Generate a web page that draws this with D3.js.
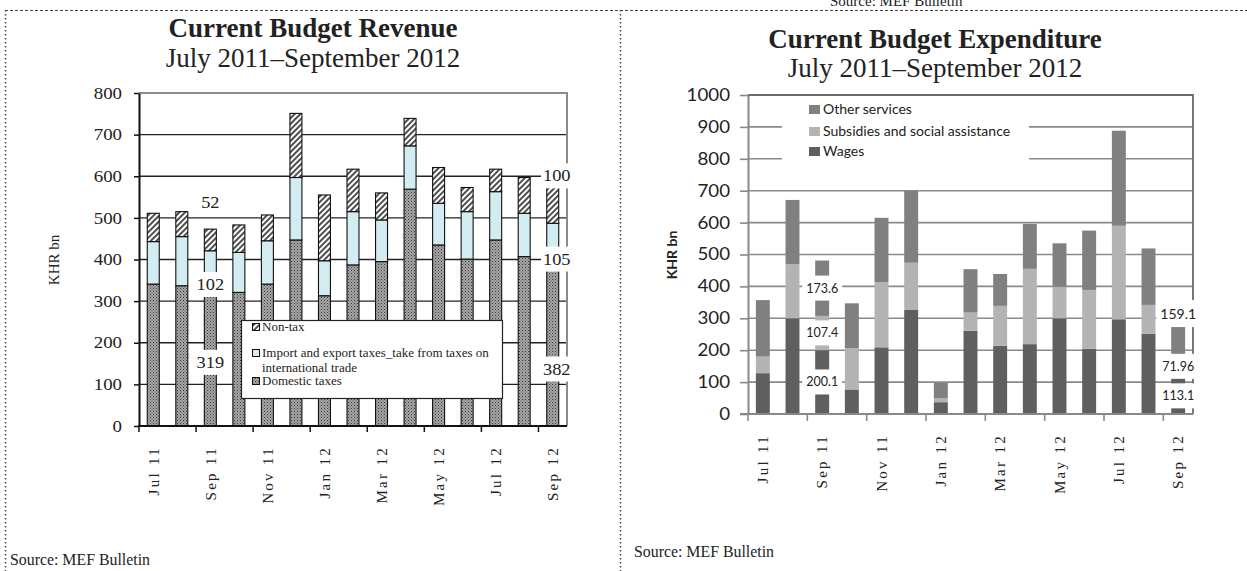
<!DOCTYPE html>
<html lang="en">
<head>
    <meta charset="UTF-8">
    <title>Current Budget Revenue / Expenditure</title>
    <script src="https://cdn.jsdelivr.net/npm/d3@7"></script>
    <style>
        body { margin: 0; background: #fff; }
        svg { display: block; }
    </style>
</head>
<body>
<script>
    // months, Jul 2011 - Sep 2012
    const months = ["Jul 11", "Aug 11", "Sep 11", "Oct 11", "Nov 11", "Dec 11", "Jan 12", "Feb 12",
        "Mar 12", "Apr 12", "May 12", "Jun 12", "Jul 12", "Aug 12", "Sep 12"];

    // revenue, KHR bn
    const revDomestic = [341, 337, 319, 321, 341, 447, 313, 387, 395, 569, 435, 401, 447, 407, 382];
    const revImport = [102, 118, 102, 96, 104, 150, 84, 128, 100, 104, 100, 114, 116, 104, 105];
    const revNonTax = [68, 60, 52, 66, 62, 154, 158, 102, 65, 66, 86, 58, 54, 86, 100];
    const revTicks = [0, 100, 200, 300, 400, 500, 600, 700, 800];
    const revLegend = ["Non-tax", "Import and export taxes_take from taxes on", "Domestic taxes"];
    // data labels as they sit on the chart (value axis position)
    const revLabels = [
        {month: "Sep 11", text: "52", at: 538},
        {month: "Sep 11", text: "102", at: 341},
        {month: "Sep 11", text: "319", at: 154},
        {month: "Sep 12", text: "100", at: 602},
        {month: "Sep 12", text: "105", at: 402},
        {month: "Sep 12", text: "382", at: 138}
    ];

    // expenditure, KHR bn
    const expWages = [128, 300, 200.1, 77, 209, 326, 37, 261, 214, 219, 300, 204, 297, 251, 113.1];
    const expSubsidies = [52, 170, 107.4, 129, 204, 148, 12, 57, 125, 236, 99, 185, 293, 91, 71.96];
    const expOther = [177, 201, 173.6, 141, 202, 225, 49, 136, 100, 141, 136, 186, 298, 177, 159.1];
    const expTicks = [0, 100, 200, 300, 400, 500, 600, 700, 800, 900, 1000];
    const expLegend = ["Other services", "Subsidies and social assistance", "Wages"];
    const expLabelMonths = ["Sep 11", "Sep 12"];
    const sep12OtherLabelAt = 313;   // that label was dragged up off its segment

    const W = 1247, H = 571;
    const serif = "'Liberation Serif', 'Times New Roman', serif";
    const sans = "Lato, 'Open Sans', sans-serif";

    const svg = d3.select("body").append("svg")
        .attr("width", W)
        .attr("height", H)
        .style("background", "#fff");

    // stretch text horizontally like the pasted chart images
    function widen(sel, k) {
        sel.each(function () {
            const w = this.getComputedTextLength();
            d3.select(this).attr("textLength", w * k).attr("lengthAdjust", "spacingAndGlyphs");
        });
    }

    // text with a white box behind it
    function boxedText(g, x, y, txt, font, size, padX, padY) {
        const t = g.append("text")
            .attr("x", x).attr("y", y)
            .attr("text-anchor", "middle")
            .attr("dy", "0.35em")
            .style("font-family", font)
            .style("font-size", size + "px")
            .attr("fill", "#222")
            .text(txt);
        const b = t.node().getBBox();
        g.insert("rect", function () { return t.node(); })
            .attr("x", b.x - padX).attr("y", b.y - padY)
            .attr("width", b.width + padX * 2).attr("height", b.height + padY * 2)
            .attr("fill", "#fff");
        return t;
    }

    // patterns
    const defs = svg.append("defs");
    const hatch = defs.append("pattern").attr("id", "hatch")
        .attr("patternUnits", "userSpaceOnUse").attr("width", 4).attr("height", 4)
        .attr("patternTransform", "rotate(45)");
    hatch.append("rect").attr("width", 4).attr("height", 4).attr("fill", "#fff");
    hatch.append("line").attr("x1", 1).attr("y1", 0).attr("x2", 1).attr("y2", 4)
        .attr("stroke", "#222").attr("stroke-width", 1.6);

    const dots = defs.append("pattern").attr("id", "dots")
        .attr("patternUnits", "userSpaceOnUse").attr("width", 3).attr("height", 3);
    dots.append("rect").attr("width", 3).attr("height", 3).attr("fill", "#a6a6a6");
    dots.append("rect").attr("width", 1).attr("height", 1).attr("fill", "#3a3a3a");
    dots.append("rect").attr("x", 1.5).attr("y", 1.5).attr("width", 1).attr("height", 1).attr("fill", "#555");

    // page frame
    svg.append("line").attr("x1", 5).attr("x2", 620).attr("y1", 10.5).attr("y2", 10.5)
        .attr("stroke", "#444").attr("stroke-dasharray", "3,2");
    svg.append("line").attr("x1", 620).attr("x2", W).attr("y1", 10.5).attr("y2", 10.5)
        .attr("stroke", "#444").attr("stroke-dasharray", "3,2");
    svg.append("line").attr("x1", 5.5).attr("x2", 5.5).attr("y1", 10).attr("y2", H)
        .attr("stroke", "#444").attr("stroke-width", 1.5).attr("stroke-dasharray", "1.5,2.5");
    svg.append("line").attr("x1", 620.5).attr("x2", 620.5).attr("y1", 10).attr("y2", H)
        .attr("stroke", "#444").attr("stroke-width", 1.5).attr("stroke-dasharray", "1.5,2.5");
    svg.append("text").attr("x", 830).attr("y", 6)
        .style("font-family", serif).style("font-size", "15px").attr("fill", "#222")
        .text("Source: MEF Bulletin");

    // ===================== Revenue (left) =====================
    const gl = svg.append("g");
    const xL = d3.scaleBand().domain(months).range([139, 567]);
    const yL = d3.scaleLinear().domain([0, 800]).range([426, 93]);
    const barWL = xL.bandwidth() * 0.42;

    gl.append("text").attr("x", 313).attr("y", 37).attr("text-anchor", "middle")
        .style("font-family", serif).style("font-size", "27px").style("font-weight", "bold")
        .attr("fill", "#222").text("Current Budget Revenue");
    gl.append("text").attr("x", 313).attr("y", 67).attr("text-anchor", "middle")
        .style("font-family", serif).style("font-size", "27px")
        .attr("fill", "#222").text("July 2011–September 2012");

    gl.append("g").selectAll("line")
        .data(revTicks.slice(1, -1))
        .join("line")
        .attr("x1", 139).attr("x2", 567)
        .attr("y1", d => yL(d)).attr("y2", d => yL(d))
        .attr("stroke", "#222").attr("stroke-width", 1.3);
    gl.append("path")
        .attr("d", `M139,${yL(800)}H567V${yL(0)}`)
        .attr("fill", "none").attr("stroke", "#8c8c8c").attr("stroke-width", 2);

    const revRows = months.map((m, i) => ({
        month: m, domestic: revDomestic[i], imp: revImport[i], nontax: revNonTax[i]
    }));
    const revStack = d3.stack().keys(["domestic", "imp", "nontax"])(revRows);
    const revFill = {domestic: "url(#dots)", imp: "#d3ecf2", nontax: "url(#hatch)"};

    gl.append("g").selectAll("g")
        .data(revStack)
        .join("g")
        .attr("fill", d => revFill[d.key])
        .selectAll("rect")
        .data(d => d)
        .join("rect")
        .attr("x", d => xL(d.data.month) + (xL.bandwidth() - barWL) / 2)
        .attr("width", barWL)
        .attr("y", d => yL(d[1]))
        .attr("height", d => yL(d[0]) - yL(d[1]))
        .attr("stroke", "#111").attr("stroke-width", 1.1);

    // axes
    const axL = gl.append("g").attr("transform", "translate(139,0)")
        .call(d3.axisLeft(yL).tickValues(revTicks).tickSize(5).tickSizeOuter(0).tickPadding(12));
    axL.select(".domain").attr("stroke", "#111").attr("stroke-width", 2);
    axL.selectAll(".tick line").attr("stroke", "#111").attr("stroke-width", 1.5);
    axL.selectAll(".tick text").style("font-family", serif).style("font-size", "16px").attr("fill", "#222")
        .call(widen, 1.18);

    gl.append("line").attr("x1", 138).attr("x2", 567).attr("y1", 426).attr("y2", 426)
        .attr("stroke", "#111").attr("stroke-width", 2);
    gl.append("g").selectAll("line")
        .data(months.filter((m, i) => i % 2 === 0))
        .join("line")
        .attr("x1", d => xL(d)).attr("x2", d => xL(d))
        .attr("y1", 426).attr("y2", 432)
        .attr("stroke", "#111").attr("stroke-width", 1.5);
    gl.append("g").selectAll("text")
        .data(months.filter((m, i) => i % 2 === 0))
        .join("text")
        .attr("transform", d => `translate(${xL(d) + xL.bandwidth() / 2},446) rotate(-90)`)
        .attr("text-anchor", "end").attr("dy", "0.35em")
        .style("font-family", serif).style("font-size", "15px").style("letter-spacing", "2.3px")
        .attr("fill", "#222")
        .text(d => d);

    gl.append("text").attr("transform", "translate(54,260) rotate(-90)")
        .attr("text-anchor", "middle").attr("dy", "0.35em")
        .style("font-family", serif).style("font-size", "15px").attr("fill", "#222")
        .text("KHR bn");

    // data labels
    const labL = gl.append("g");
    revLabels.forEach(d => {
        const t = boxedText(labL, xL(d.month) + xL.bandwidth() / 2 + (d.month === "Sep 12" ? 4 : 0),
            yL(d.at), d.text, serif, 17, 3, 3);
        widen(t, 1.08);
    });

    // legend
    const lgL = gl.append("g");
    lgL.append("rect").attr("x", 241.5).attr("y", 320.5).attr("width", 261).attr("height", 78)
        .attr("fill", "#fff").attr("stroke", "#222").attr("stroke-width", 1.2);
    const legFillL = ["url(#hatch)", "#d3ecf2", "url(#dots)"];
    const legSwY = [323, 349, 377];
    const legTxtY = [331, 357, 385];
    revLegend.forEach((name, i) => {
        lgL.append("rect").attr("x", 252.5).attr("y", legSwY[i] + 0.5).attr("width", 7).attr("height", 7)
            .attr("fill", legFillL[i]).attr("stroke", "#111").attr("stroke-width", 1);
        lgL.append("text").attr("x", 262).attr("y", legTxtY[i])
            .style("font-family", serif).style("font-size", "13px").attr("fill", "#222")
            .text(name);
    });
    lgL.append("text").attr("x", 262).attr("y", 372)
        .style("font-family", serif).style("font-size", "13px").attr("fill", "#222")
        .text("international trade");

    svg.append("text").attr("x", 10).attr("y", 565)
        .style("font-family", serif).style("font-size", "17px").attr("fill", "#222")
        .attr("textLength", 140).attr("lengthAdjust", "spacingAndGlyphs")
        .text("Source: MEF Bulletin");

    // ===================== Expenditure (right) =====================
    const gr = svg.append("g");
    const xR = d3.scaleBand().domain(months).range([748, 1193]);
    const yR = d3.scaleLinear().domain([0, 1000]).range([414, 95]);
    const barWR = xR.bandwidth() * 0.47;

    gr.append("text").attr("x", 935).attr("y", 48).attr("text-anchor", "middle")
        .style("font-family", serif).style("font-size", "27px").style("font-weight", "bold")
        .attr("fill", "#222").text("Current Budget Expenditure");
    gr.append("text").attr("x", 935).attr("y", 77).attr("text-anchor", "middle")
        .style("font-family", serif).style("font-size", "27px")
        .attr("fill", "#222").text("July 2011–September 2012");

    gr.append("g").selectAll("line")
        .data(expTicks.slice(1, -1))
        .join("line")
        .attr("x1", 748).attr("x2", 1193)
        .attr("y1", d => yR(d)).attr("y2", d => yR(d))
        .attr("stroke", "#8a8a8a").attr("stroke-width", 1.6);
    gr.append("path")
        .attr("d", `M748,${yR(1000)}H1193V${yR(0)}`)
        .attr("fill", "none").attr("stroke", "#6a6a6a").attr("stroke-width", 1.8);

    const expRows = months.map((m, i) => ({
        month: m, wages: expWages[i], subsidies: expSubsidies[i], other: expOther[i]
    }));
    const expStack = d3.stack().keys(["wages", "subsidies", "other"])(expRows);
    const expFill = {wages: "#5f5f5f", subsidies: "#b3b3b3", other: "#808080"};

    gr.append("g").selectAll("g")
        .data(expStack)
        .join("g")
        .attr("fill", d => expFill[d.key])
        .selectAll("rect")
        .data(d => d)
        .join("rect")
        .attr("x", d => xR(d.data.month) + (xR.bandwidth() - barWR) / 2)
        .attr("width", barWR)
        .attr("y", d => yR(d[1]))
        .attr("height", d => yR(d[0]) - yR(d[1]));

    const axR = gr.append("g").attr("transform", "translate(748,0)")
        .call(d3.axisLeft(yR).tickValues(expTicks).tickFormat(d3.format("d"))
            .tickSize(8).tickSizeOuter(0).tickPadding(10));
    axR.select(".domain").attr("stroke", "#888").attr("stroke-width", 2);
    axR.selectAll(".tick line").attr("stroke", "#888").attr("stroke-width", 1.6);
    axR.selectAll(".tick text").style("font-family", sans).style("font-size", "17px").attr("fill", "#222")
        .call(widen, 1.1);

    gr.append("line").attr("x1", 740).attr("x2", 1193).attr("y1", 414).attr("y2", 414)
        .attr("stroke", "#888").attr("stroke-width", 2);
    gr.append("g").selectAll("line")
        .data(months.filter((m, i) => i % 2 === 0))
        .join("line")
        .attr("x1", d => xR(d)).attr("x2", d => xR(d))
        .attr("y1", 414).attr("y2", 421)
        .attr("stroke", "#888").attr("stroke-width", 1.6);
    gr.append("g").selectAll("text")
        .data(months.filter((m, i) => i % 2 === 0))
        .join("text")
        .attr("transform", d => `translate(${xR(d) + xR.bandwidth() / 2},434) rotate(-90)`)
        .attr("text-anchor", "end").attr("dy", "0.35em")
        .style("font-family", serif).style("font-size", "15px").style("letter-spacing", "2.3px")
        .attr("fill", "#222")
        .text(d => d);

    gr.append("text").attr("transform", "translate(672,255) rotate(-90)")
        .attr("text-anchor", "middle").attr("dy", "0.35em")
        .style("font-family", sans).style("font-size", "14px").style("font-weight", "bold")
        .attr("fill", "#222")
        .text("KHR bn");

    // data labels at segment middles
    const labR = gr.append("g");
    expStack.forEach(s => {
        s.filter(d => expLabelMonths.includes(d.data.month)).forEach(d => {
            const v = d.data[s.key];
            const big = d.data.month === "Sep 12" && s.key === "other";
            const at = big ? sep12OtherLabelAt : (d[0] + d[1]) / 2;
            boxedText(labR, xR(d.data.month) + xR.bandwidth() / 2, yR(at), String(v),
                sans, big ? 14 : 12.5, 4, 5);
        });
    });

    // legend
    const lgR = gr.append("g");
    lgR.append("rect").attr("x", 782).attr("y", 97).attr("width", 247).attr("height", 82).attr("fill", "#fff");
    const legFillR = [expFill.other, expFill.subsidies, expFill.wages];
    const legBase = [114, 136, 156];
    expLegend.forEach((name, i) => {
        lgR.append("rect").attr("x", 809).attr("y", legBase[i] - 9).attr("width", 11).attr("height", 9)
            .attr("fill", legFillR[i]);
        lgR.append("text").attr("x", 823).attr("y", legBase[i])
            .style("font-family", sans).style("font-size", "14px").attr("fill", "#222")
            .text(name);
    });

    svg.append("text").attr("x", 634).attr("y", 557)
        .style("font-family", serif).style("font-size", "17px").attr("fill", "#222")
        .attr("textLength", 140).attr("lengthAdjust", "spacingAndGlyphs")
        .text("Source: MEF Bulletin");
</script>
</body>
</html>
